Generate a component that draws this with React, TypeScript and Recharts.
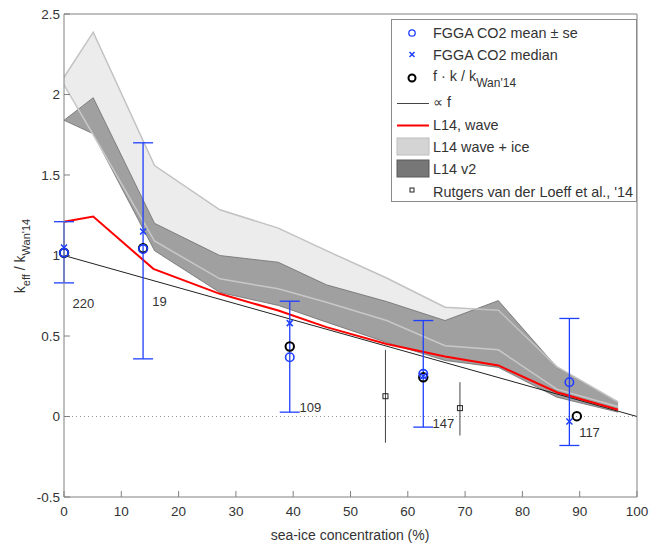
import React from 'react';
import { ComposedChart, Area, Line, Scatter, ErrorBar, XAxis, YAxis, ReferenceLine } from 'recharts';

// sea-ice concentration (%) at the model band vertices
const bandIce = [0, 5.1, 15.8, 27.2, 37.4, 45.8, 56.3, 66.5, 75.8, 86, 96.7];
const waveIceLow = [2.06, 1.75, 1.09, 0.855, 0.793, 0.71, 0.596, 0.44, 0.414, 0.17, 0.06];
const waveIceHigh = [2.107, 2.387, 1.559, 1.284, 1.17, 1.03, 0.86, 0.679, 0.66, 0.31, 0.09];
const v2Low = [1.84, 1.756, 1.03, 0.77, 0.69, 0.586, 0.46, 0.348, 0.305, 0.12, 0.027];
const v2High = [1.84, 1.98, 1.2, 1.0, 0.958, 0.818, 0.714, 0.596, 0.72, 0.306, 0.089];

const waveIce = [0, 5.1, 15.6, 27.2, 37.4, 45.8, 56.3, 66.5, 75.8, 86, 96.7];
const waveK = [1.21, 1.242, 0.917, 0.762, 0.658, 0.555, 0.45, 0.373, 0.317, 0.151, 0.042];

const propIce = [0, 100];
const propK = [1, 0];

// FGGA CO2 bins
const fggaIce = [0, 13.8, 39.4, 62.7, 88.2];
const fggaMean = [1.017, 1.04, 0.368, 0.265, 0.213];
const fggaSeLow = [0.83, 0.358, 0.027, -0.066, -0.18];
const fggaSeHigh = [1.21, 1.7, 0.716, 0.596, 0.609];
const fggaMedian = [1.05, 1.149, 0.58, 0.25, -0.031];
const fggaCount = ['220', '19', '109', '147', '117'];
const countIce = [1.5, 15.4, 41.1, 64.3, 89.9];
const countK = [0.704, 0.716, 0.058, -0.045, -0.097];

const scaledIce = [0, 13.8, 39.4, 62.7, 89.5];
const scaledK = [1.017, 1.045, 0.435, 0.244, 0.002];

const rutgersIce = [56.1, 69.1];
const rutgersK = [0.126, 0.052];
const rutgersLow = [-0.163, -0.118];
const rutgersHigh = [0.414, 0.213];

const xTicks = [0, 10, 20, 30, 40, 50, 60, 70, 80, 90, 100];
const yTicks = [-0.5, 0, 0.5, 1, 1.5, 2, 2.5];

const FONT = '"Liberation Sans", Arial, sans-serif';
const BLUE = '#1f3fff';
const AXIS = '#808080';
const TEXT = '#333';

const pts = (xs: number[], ys: number[]) => xs.map((x, i) => ({ x, y: ys[i] }));

const bandData = bandIce.map((x, i) => ({
  x,
  light: [waveIceLow[i], waveIceHigh[i]],
  dark: [v2Low[i], v2High[i]],
  lightLo: waveIceLow[i],
  lightHi: waveIceHigh[i],
}));

const meanData = fggaIce.map((x, i) => ({
  x,
  y: fggaMean[i],
  err: [fggaMean[i] - fggaSeLow[i], fggaSeHigh[i] - fggaMean[i]],
}));

const rutgersData = rutgersIce.map((x, i) => ({
  x,
  y: rutgersK[i],
  err: [rutgersK[i] - rutgersLow[i], rutgersHigh[i] - rutgersK[i]],
}));

const countData = countIce.map((x, i) => ({ x, y: countK[i], label: fggaCount[i] }));

const OpenCircle = (color: string, width: number) => (p: any) =>
  <circle cx={p.cx} cy={p.cy} r={4.2} fill="none" stroke={color} strokeWidth={width} />;

const Cross = (p: any) => (
  <path
    d={`M${p.cx - 3},${p.cy - 3}L${p.cx + 3},${p.cy + 3}M${p.cx - 3},${p.cy + 3}L${p.cx + 3},${p.cy - 3}`}
    stroke={BLUE}
    strokeWidth={1.5}
  />
);

const Square = (p: any) => (
  <rect x={p.cx - 2.5} y={p.cy - 2.5} width={5} height={5} fill="none" stroke="#222" strokeWidth={1} />
);

const CountText = (p: any) => (
  <text x={p.cx} y={p.cy} dominantBaseline="central" fontFamily={FONT} fontSize={13} fill={TEXT}>
    {p.payload.label}
  </text>
);

const Overlay = () => (
  <svg width={650} height={544} style={{ position: 'absolute', left: 0, top: 0, pointerEvents: 'none' }}>
    <g fontFamily={FONT} fill={TEXT}>
      <text x={350} y={540} fontSize={14} textAnchor="middle">sea-ice concentration (%)</text>
      <text transform="translate(25,256) rotate(-90)" fontSize={14} textAnchor="middle">
        k<tspan fontSize={11} dy={5}>eff</tspan>
        <tspan dy={-5}> / k</tspan>
        <tspan fontSize={11} dy={5}>Wan'14</tspan>
      </text>
    </g>
    <g>
      <rect x={391.5} y={19.5} width={245} height={182} fill="#fff" stroke="#8a8a8a" />
      <circle cx={412} cy={33} r={3.2} fill="none" stroke={BLUE} strokeWidth={1.3} />
      <path d="M409.5,52L414.5,57M409.5,57L414.5,52" stroke={BLUE} strokeWidth={1.5} />
      <circle cx={412} cy={78} r={3.5} fill="none" stroke="#000" strokeWidth={2} />
      <line x1={397} x2={429} y1={103.5} y2={103.5} stroke="#444" strokeWidth={1} />
      <line x1={397} x2={429} y1={125.5} y2={125.5} stroke="#ff0000" strokeWidth={2} />
      <rect x={397} y={138} width={32} height={17} fill="#d4d4d4" stroke="#bdbdbd" />
      <rect x={397} y={160} width={32} height={17} fill="#777" stroke="#5a5a5a" />
      <rect x={410} y={188} width={4} height={4} fill="none" stroke="#222" strokeWidth={1} />
      <g fontFamily={FONT} fontSize={14.4} fill={TEXT}>
        <text x={433} y={38}>FGGA CO2 mean ± se</text>
        <text x={433} y={60}>FGGA CO2 median</text>
        <text x={433} y={81}>
          f · k / k<tspan fontSize={12} dy={6}>Wan'14</tspan>
        </text>
        <text x={433} y={107}>∝ f</text>
        <text x={433} y={130}>L14, wave</text>
        <text x={433} y={152}>L14 wave + ice</text>
        <text x={433} y={174}>L14 v2</text>
        <text x={433} y={197}>Rutgers van der Loeff et al., '14</text>
      </g>
    </g>
  </svg>
);

const App: React.FC = () => (
  <div style={{ position: 'absolute', left: 0, top: 0, width: 650, height: 544, background: '#fff' }}>
    <ComposedChart width={650} height={544} margin={{ top: 13, right: 12, bottom: 0, left: 0 }}>
      <XAxis
        dataKey="x"
        type="number"
        domain={[0, 100]}
        ticks={xTicks}
        height={47}
        stroke={AXIS}
        tickSize={-6}
        tickMargin={15}
        tick={{ fill: TEXT, fontSize: 13.5, fontFamily: FONT }}
      />
      <XAxis
        xAxisId="top"
        orientation="top"
        type="number"
        domain={[0, 100]}
        ticks={xTicks}
        height={1}
        stroke={AXIS}
        tickSize={-6}
        tick={false}
      />
      <YAxis
        type="number"
        domain={[-0.5, 2.5]}
        ticks={yTicks}
        width={64}
        stroke={AXIS}
        tickSize={-6}
        tickMargin={10}
        tick={{ fill: TEXT, fontSize: 13.5, fontFamily: FONT }}
      />
      <YAxis
        yAxisId="right"
        orientation="right"
        type="number"
        domain={[-0.5, 2.5]}
        ticks={yTicks}
        width={1}
        stroke={AXIS}
        tickSize={-6}
        tick={false}
      />
      <Area data={bandData} dataKey="light" type="linear" fill="#ececec" fillOpacity={1} stroke="none" isAnimationActive={false} />
      <Area data={bandData} dataKey="dark" type="linear" fill="#a0a0a0" fillOpacity={1} stroke="#6e6e6e" strokeWidth={0.8} isAnimationActive={false} />
      <Line data={bandData} dataKey="lightHi" type="linear" stroke="#c2c2c2" strokeWidth={1.5} dot={false} isAnimationActive={false} />
      <Line data={bandData} dataKey="lightLo" type="linear" stroke="#c8c8c8" strokeWidth={1.5} dot={false} isAnimationActive={false} />
      <ReferenceLine y={0} stroke="#999" strokeDasharray="1 3" />
      <Line data={pts(propIce, propK)} dataKey="y" type="linear" stroke="#222" strokeWidth={1} dot={false} isAnimationActive={false} />
      <Line data={pts(waveIce, waveK)} dataKey="y" type="linear" stroke="#ff0000" strokeWidth={2} dot={false} isAnimationActive={false} />
      <Scatter data={rutgersData} dataKey="y" shape={Square} isAnimationActive={false}>
        <ErrorBar dataKey="err" direction="y" width={0} stroke="#444" strokeWidth={1} />
      </Scatter>
      <Scatter data={pts(scaledIce, scaledK)} dataKey="y" shape={OpenCircle('#000', 2)} isAnimationActive={false} />
      <Scatter data={meanData} dataKey="y" shape={OpenCircle(BLUE, 1.6)} isAnimationActive={false}>
        <ErrorBar dataKey="err" direction="y" width={10} stroke={BLUE} strokeWidth={1.3} />
      </Scatter>
      <Scatter data={pts(fggaIce, fggaMedian)} dataKey="y" shape={Cross} isAnimationActive={false} />
      <Scatter data={countData} dataKey="y" shape={CountText} isAnimationActive={false} />
    </ComposedChart>
    <Overlay />
  </div>
);

export default App;
